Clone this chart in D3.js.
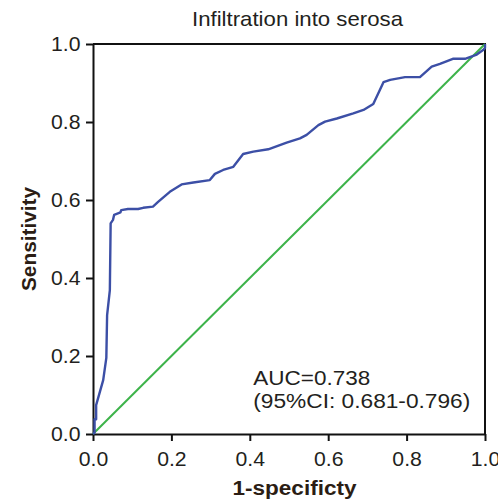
<!DOCTYPE html>
<html>
<head>
<meta charset="utf-8">
<script src="https://cdn.jsdelivr.net/npm/d3@7"></script>
<style>
  html, body { margin: 0; padding: 0; background: #fff; }
  svg { display: block; }
  text { font-family: "Liberation Sans", Arial, sans-serif; }
</style>
</head>
<body>
<svg id="chart" width="498" height="502"></svg>
<script>
// ---- data ----
const title = "Infiltration into serosa";
const xLabel = "1-specificty";
const yLabel = "Sensitivity";
const fpr = [0, 0.004, 0.004, 0.008, 0.008, 0.026, 0.034, 0.036, 0.043, 0.045, 0.051, 0.054, 0.070, 0.072, 0.089,
  0.115, 0.128, 0.153, 0.166, 0.196, 0.226, 0.256, 0.298, 0.311, 0.332, 0.358, 0.383, 0.409, 0.447, 0.494,
  0.528, 0.545, 0.575, 0.592, 0.622, 0.664, 0.690, 0.715, 0.741, 0.758, 0.796, 0.834, 0.864, 0.885, 0.918,
  0.949, 0.979, 0.996, 1.0, 1.0];
const tpr = [0, 0.003, 0.038, 0.038, 0.074, 0.138, 0.195, 0.305, 0.369, 0.540, 0.549, 0.562, 0.568, 0.574, 0.577,
  0.577, 0.580, 0.583, 0.595, 0.621, 0.640, 0.645, 0.651, 0.667, 0.677, 0.685, 0.718, 0.724, 0.730, 0.747,
  0.758, 0.767, 0.792, 0.801, 0.809, 0.822, 0.831, 0.846, 0.902, 0.908, 0.915, 0.915, 0.942, 0.949, 0.962,
  0.962, 0.973, 0.985, 0.990, 1.0];
const refLine = [0, 1];
const ticks = [0, 0.2, 0.4, 0.6, 0.8, 1.0];
const aucLines = ["AUC=0.738", "(95%CI: 0.681-0.796)"];

// ---- layout ----
const svg = d3.select("#chart");
const x = d3.scaleLinear().domain([0, 1]).range([93, 485]);
const y = d3.scaleLinear().domain([0, 1]).range([434, 44]);
const ink = "#231f20";
const titleInk = "#2b1d14";

// frame (top and right)
svg.append("path")
  .attr("d", `M${x(0)},${y(1)}H${x(1)}V${y(0)}`)
  .attr("fill", "none").attr("stroke", "#111").attr("stroke-width", 2);

// axes
const fmt = d3.format(".1f");
const gx = svg.append("g").attr("transform", `translate(0,${y(0)})`)
  .call(d3.axisBottom(x).tickValues(ticks).tickFormat(fmt).tickSize(7).tickSizeOuter(0).tickPadding(11.5));
const gy = svg.append("g").attr("transform", `translate(${x(0)},0)`)
  .call(d3.axisLeft(y).tickValues(ticks).tickFormat(fmt).tickSize(7).tickSizeOuter(0).tickPadding(5.5));
[gx, gy].forEach(g => {
  g.select(".domain").attr("stroke", "#111").attr("stroke-width", 2);
  g.selectAll(".tick line").attr("stroke", "#111").attr("stroke-width", 2);
  g.selectAll(".tick text")
    .attr("font-family", "Liberation Sans, Arial, sans-serif")
    .attr("font-size", 19.5).attr("fill", ink)
    .attr("textLength", 29.5).attr("lengthAdjust", "spacingAndGlyphs");
});
gy.selectAll(".tick text").attr("dy", "0.35em");

// reference diagonal
svg.append("path")
  .datum(refLine)
  .attr("d", d3.line().x(d => x(d)).y(d => y(d)))
  .attr("fill", "none").attr("stroke", "#3db34a").attr("stroke-width", 2);

// ROC curve
svg.append("path")
  .datum(fpr.map((f, i) => [f, tpr[i]]))
  .attr("d", d3.line().x(d => x(d[0])).y(d => y(d[1])))
  .attr("fill", "none").attr("stroke", "#3c4fa6").attr("stroke-width", 2.4)
  .attr("stroke-linejoin", "round");

// title
svg.append("text").attr("x", 297.5).attr("y", 26)
  .attr("text-anchor", "middle").attr("font-size", 21).attr("fill", ink)
  .attr("textLength", 211).attr("lengthAdjust", "spacingAndGlyphs")
  .text(title);

// axis titles
svg.append("text").attr("x", 294.5).attr("y", 494.5)
  .attr("text-anchor", "middle").attr("font-size", 19.5).attr("font-weight", "bold").attr("fill", titleInk)
  .attr("textLength", 124).attr("lengthAdjust", "spacingAndGlyphs")
  .text(xLabel);
svg.append("text").attr("transform", "translate(36,239) rotate(-90)")
  .attr("text-anchor", "middle").attr("font-size", 19.5).attr("font-weight", "bold").attr("fill", titleInk)
  .attr("textLength", 104).attr("lengthAdjust", "spacingAndGlyphs")
  .text(yLabel);

// AUC annotation
const aucWidths = [117, 217];
aucLines.forEach((t, i) => {
  svg.append("text").attr("x", 253.3).attr("y", 385 + i * 23)
    .attr("font-size", 19.5).attr("fill", ink)
    .attr("textLength", aucWidths[i]).attr("lengthAdjust", "spacingAndGlyphs")
    .text(t);
});
</script>
</body>
</html>
